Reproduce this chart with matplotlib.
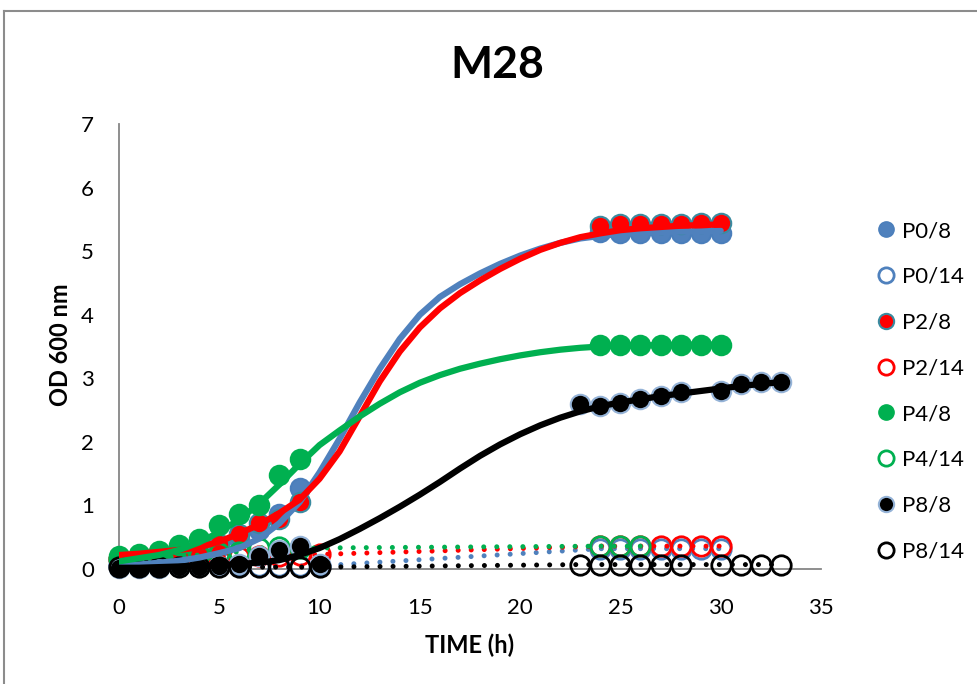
import matplotlib
matplotlib.use('Agg')
import matplotlib.pyplot as plt
from matplotlib.lines import Line2D

plt.rcParams['font.family'] = ['Lato', 'DejaVu Sans']

# measured points (time h, OD600)
t_p0_8 = [0, 1, 2, 3, 4, 5, 6, 7, 8, 9, 24, 25, 26, 27, 28, 29, 30]
od_p0_8 = [0.10, 0.10, 0.10, 0.12, 0.15, 0.35, 0.48, 0.62, 0.86, 1.28,
           5.30, 5.28, 5.28, 5.28, 5.28, 5.28, 5.28]

t_p0_14 = [0, 1, 2, 3, 4, 5, 6, 7, 8, 9, 10, 24, 25, 26, 27, 28, 29, 30]
od_p0_14 = [0.04, 0.04, 0.04, 0.04, 0.05, 0.05, 0.05, 0.05, 0.05, 0.05, 0.05,
            0.32, 0.32, 0.32, 0.32, 0.32, 0.32, 0.32]

t_p2_8 = [0, 1, 2, 3, 4, 5, 6, 7, 8, 9, 24, 25, 26, 27, 28, 29, 30]
od_p2_8 = [0.15, 0.15, 0.17, 0.20, 0.25, 0.40, 0.55, 0.72, 0.78, 1.05,
           5.40, 5.42, 5.43, 5.43, 5.43, 5.44, 5.44]

t_p2_14 = [0, 1, 2, 3, 4, 5, 6, 7, 8, 9, 10, 24, 25, 26, 27, 28, 29, 30]
od_p2_14 = [0.15, 0.15, 0.15, 0.16, 0.17, 0.18, 0.19, 0.20, 0.20, 0.22, 0.23,
            0.36, 0.36, 0.36, 0.36, 0.36, 0.36, 0.36]

t_p4_8 = [0, 1, 2, 3, 4, 5, 6, 7, 8, 9, 24, 25, 26, 27, 28, 29, 30]
od_p4_8 = [0.20, 0.24, 0.28, 0.37, 0.48, 0.69, 0.87, 1.00, 1.48, 1.73,
           3.53, 3.53, 3.53, 3.53, 3.53, 3.53, 3.53]

t_p4_14 = [0, 1, 2, 3, 4, 5, 6, 7, 8, 9, 24, 25, 26]
od_p4_14 = [0.15, 0.17, 0.18, 0.20, 0.22, 0.25, 0.27, 0.33, 0.35, 0.33,
            0.36, 0.36, 0.36]

t_p8_8 = [0, 1, 2, 3, 4, 5, 6, 7, 8, 9, 10, 23, 24, 25, 26, 27, 28, 30, 31, 32, 33]
od_p8_8 = [0.02, 0.02, 0.02, 0.03, 0.03, 0.05, 0.08, 0.20, 0.30, 0.36, 0.08,
           2.59, 2.56, 2.61, 2.67, 2.72, 2.78, 2.80, 2.91, 2.94, 2.94]

t_p8_14 = [0, 1, 2, 3, 4, 5, 6, 7, 8, 9, 10, 23, 24, 25, 26, 27, 28, 30, 31, 32, 33]
od_p8_14 = [0.03, 0.03, 0.03, 0.03, 0.03, 0.03, 0.03, 0.03, 0.03, 0.03, 0.03,
            0.07, 0.07, 0.07, 0.07, 0.07, 0.07, 0.07, 0.07, 0.07, 0.07]

# trend curves, one value per hour
t_fit = list(range(0, 31))
fit_p0 = [0.05, 0.07, 0.10, 0.13, 0.18, 0.25, 0.33, 0.48, 0.72, 1.05, 1.52,
          2.05, 2.62, 3.15, 3.62, 4.00, 4.28, 4.48, 4.65, 4.80, 4.93, 5.04,
          5.13, 5.20, 5.24, 5.27, 5.29, 5.30, 5.31, 5.31, 5.32]
fit_p2 = [0.22, 0.24, 0.27, 0.30, 0.34, 0.43, 0.56, 0.70, 0.88, 1.09, 1.42,
          1.85, 2.40, 2.95, 3.42, 3.80, 4.10, 4.34, 4.54, 4.72, 4.88, 5.02,
          5.13, 5.22, 5.28, 5.33, 5.36, 5.38, 5.40, 5.41, 5.42]
fit_p4 = [0.12, 0.17, 0.22, 0.30, 0.42, 0.58, 0.78, 1.03, 1.33, 1.65, 1.95,
          2.18, 2.40, 2.60, 2.78, 2.93, 3.05, 3.15, 3.23, 3.30, 3.36, 3.41,
          3.45, 3.48, 3.50, 3.51, 3.52, 3.52, 3.53, 3.53, 3.53]
t_fit8 = list(range(0, 34))
fit_p8 = [0.02, 0.02, 0.03, 0.04, 0.05, 0.06, 0.08, 0.10, 0.14, 0.22, 0.33,
          0.47, 0.63, 0.80, 0.98, 1.17, 1.37, 1.58, 1.78, 1.96, 2.12, 2.26,
          2.38, 2.48, 2.56, 2.62, 2.67, 2.72, 2.76, 2.80, 2.84, 2.88, 2.91, 2.94]

labels = ['P0/8', 'P0/14', 'P2/8', 'P2/14', 'P4/8', 'P4/14', 'P8/8', 'P8/14']

BLUE = '#4F81BD'
RED = '#FF0000'
GREEN = '#00B050'
BLACK = '#000000'

fig = plt.figure(figsize=(9.77, 6.84), dpi=100)
ax = fig.add_axes([0.1218, 0.1681, 0.7185, 0.6506])

ms = 14
dot = dict(linestyle=(0, (0.01, 2.6)), linewidth=3.6, dash_capstyle='round')

# data points (the /8 curves are drawn separately)
ax.plot(t_p0_8, od_p0_8, 'o', ms=ms, mfc=BLUE, mec='#4A7EBB', mew=1.5, clip_on=False, zorder=3)
ax.plot(t_p0_14, od_p0_14, 'o', ms=ms, mfc='none', mec=BLUE, mew=2, color=BLUE, clip_on=False, zorder=3, **dot)
ax.plot(t_p2_8, od_p2_8, 'o', ms=ms, mfc=RED, mec='#3A8BA0', mew=1.5, clip_on=False, zorder=3)
ax.plot(t_p2_14, od_p2_14, 'o', ms=ms, mfc='none', mec=RED, mew=2, color=RED, clip_on=False, zorder=3, **dot)
ax.plot(t_p4_8, od_p4_8, 'o', ms=ms, mfc=GREEN, mec=GREEN, mew=1.5, clip_on=False, zorder=3)
ax.plot(t_p4_14, od_p4_14, 'o', ms=ms, mfc='none', mec=GREEN, mew=2, color=GREEN, clip_on=False, zorder=3, **dot)
ax.plot(t_p8_8, od_p8_8, 'o', ms=ms, mfc=BLACK, mec='#95B3D7', mew=1.5, clip_on=False, zorder=3)
ax.plot(t_p8_14, od_p8_14, 'o', ms=ms, mfc='none', mec=BLACK, mew=2, color=BLACK, clip_on=False, zorder=3, **dot)

# trend curves
ax.plot(t_fit, fit_p0, color=BLUE, lw=4.5, zorder=4, solid_capstyle='round')
ax.plot(t_fit, fit_p2, color=RED, lw=4.5, zorder=4, solid_capstyle='round')
ax.plot(t_fit, fit_p4, color=GREEN, lw=4.5, zorder=4, solid_capstyle='round')
ax.plot(t_fit8, fit_p8, color=BLACK, lw=4.5, zorder=4, solid_capstyle='round')

ax.set_xlim(0, 35)
ax.set_ylim(0, 7)
ax.set_xticks(range(0, 36, 5))
ax.set_yticks(range(0, 8))
ax.tick_params(length=0, labelsize=16)
ax.tick_params(axis='x', pad=21)
ax.tick_params(axis='y', pad=18)
for s in ['top', 'right']:
    ax.spines[s].set_visible(False)
for s in ['left', 'bottom']:
    ax.spines[s].set_color('#868686')
    ax.spines[s].set_linewidth(1.3)

fig.text(470 / 977, 1 - 645 / 684, 'TIME (h)', ha='center', va='center',
         fontsize=17, fontweight='bold')
fig.text(60 / 977, 1 - 345 / 684, 'OD 600 nm', ha='center', va='center',
         rotation=90, fontsize=17, fontweight='bold')
fig.text(497 / 977, 1 - 65 / 684, 'M28', ha='center', va='center',
         fontsize=32, fontweight='bold')

# legend
lm = 11
handles = [
    Line2D([], [], ls='none', marker='o', ms=lm, mfc=BLUE, mec='#4A7EBB'),
    Line2D([], [], ls='none', marker='o', ms=lm, mfc='none', mec=BLUE, mew=2),
    Line2D([], [], ls='none', marker='o', ms=lm, mfc=RED, mec='#3A8BA0', mew=1.5),
    Line2D([], [], ls='none', marker='o', ms=lm, mfc='none', mec=RED, mew=2),
    Line2D([], [], ls='none', marker='o', ms=lm, mfc=GREEN, mec=GREEN),
    Line2D([], [], ls='none', marker='o', ms=lm, mfc='none', mec=GREEN, mew=2),
    Line2D([], [], ls='none', marker='o', ms=lm, mfc=BLACK, mec='#95B3D7', mew=1.5),
    Line2D([], [], ls='none', marker='o', ms=lm, mfc='none', mec=BLACK, mew=2),
]
fig.legend(handles, labels, loc='upper left', bbox_to_anchor=(864 / 977, 1 - 210 / 684),
           frameon=False, fontsize=16, labelspacing=1.16, handlelength=1.0,
           handletextpad=0.2, borderpad=0)

# outer chart frame
fig.add_artist(Line2D([4 / 977, 1], [1 - 11 / 684] * 2, color='#8C8C8C', lw=1.5))
fig.add_artist(Line2D([4 / 977] * 2, [0, 1 - 11 / 684], color='#8C8C8C', lw=1.5))

fig.savefig('out.png', dpi=100)
